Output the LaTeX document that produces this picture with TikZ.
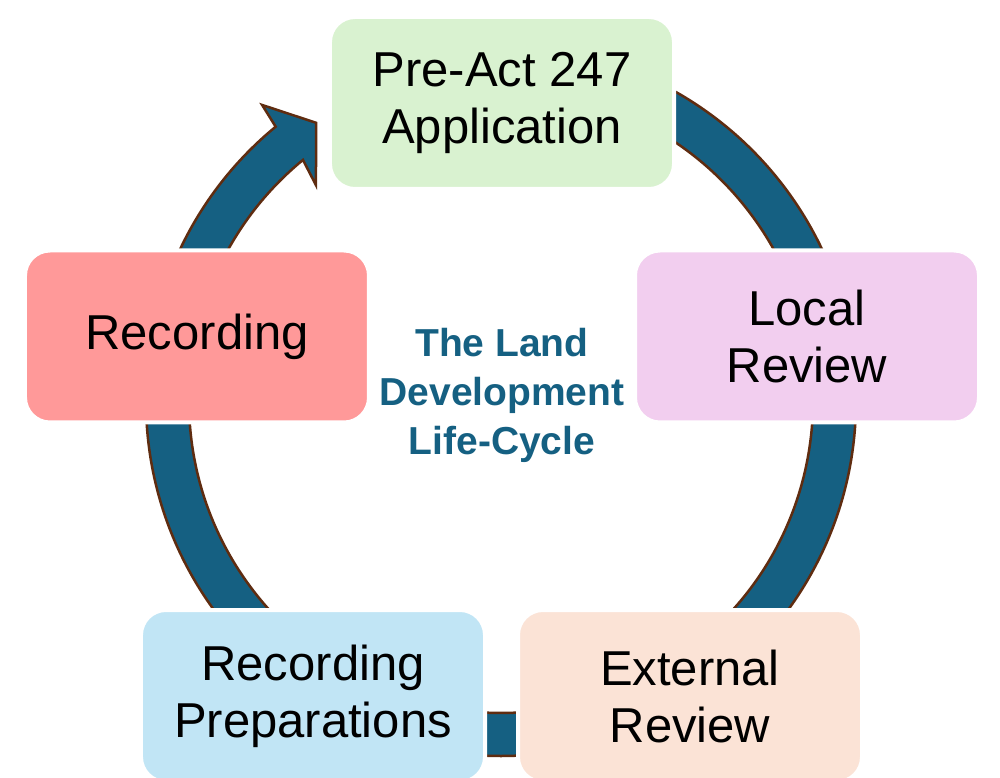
\documentclass[tikz,border=0pt]{standalone}
\usepackage{fontspec}
\setmainfont{Liberation Sans}
\definecolor{band}{HTML}{156082}
\definecolor{bandline}{HTML}{5F2C10}
\definecolor{cgreen}{HTML}{D9F2D0}
\definecolor{cpink}{HTML}{F2CEEF}
\definecolor{cpeach}{HTML}{FBE3D6}
\definecolor{cblue}{HTML}{C1E5F5}
\definecolor{csalmon}{HTML}{FF9999}
\begin{document}
\begin{tikzpicture}[x=1pt,y=1pt,
  stage/.style={rounded corners=25pt, minimum width=344pt, minimum height=172pt,
    draw=white, line width=4pt, align=center, inner sep=0pt,
    font=\fontsize{49}{57}\selectfont, text=black},
  titletext/.style={align=center, text=band, inner sep=0pt,
    font=\fontsize{39}{49}\selectfont\bfseries},
  ring/.style={fill=band, draw=bandline, line width=2.5pt, line join=miter}
]
\useasboundingbox (-501,-377) rectangle (499,401);
\fill[white] (-501,-377) rectangle (499,401);
% circular arrow band
\draw[ring]
  (90:355) arc[start angle=90, end angle=-230.6, radius=355]
  -- (128.9:380.4) -- (123.6:334) -- (130.6:284.4) -- (-230.6:312)
  arc[start angle=-230.6, end angle=90, radius=312] -- cycle;
% stages
\node[stage, fill=cgreen]  (pre)   at (1,298)     {Pre-Act 247\\Application};
\node[stage, fill=cpink]   (local) at (306,64.5)  {Local\\Review};
\node[stage, fill=cpeach]  (ext)   at (189,-295)  {External\\Review};
\node[stage, fill=cblue]   (prep)  at (-188,-295) {Recording\\Preparations};
\node[stage, fill=csalmon] (rec)   at (-304,64.5) {Recording};
% title
\node[titletext] (title) at (1,5.5) {The Land\\Development\\Life-Cycle};
\end{tikzpicture}
\end{document}
